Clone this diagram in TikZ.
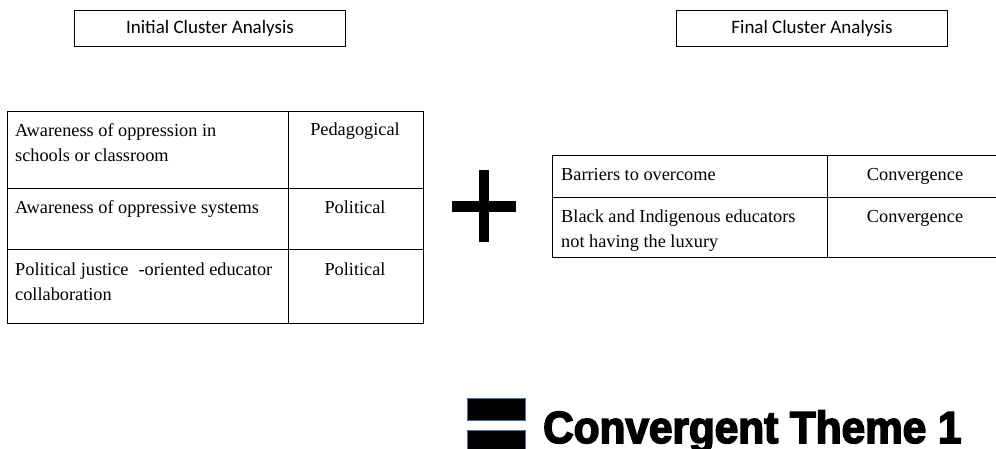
\documentclass[tikz,border=0pt]{standalone}
\usepackage{fontspec}
\setmainfont{Liberation Serif}
\newfontfamily\labelfont{Carlito}
\newfontfamily\themefont[FakeBold=3.5,FakeStretch=0.94]{Liberation Sans Bold}
\definecolor{baredge}{HTML}{41719C}

\tikzset{
  headbox/.style={draw, line width=1pt, minimum width=271pt, minimum height=36pt,
    inner sep=0pt, anchor=north west, font=\labelfont\fontsize{19}{22}\selectfont},
  cell/.style={draw, line width=1pt, inner sep=0pt, anchor=north west},
  celltext/.style={inner sep=0pt, align=left, font=\fontsize{18.3}{25}\selectfont},
  sign/.style={fill=black, draw=none},
  signbar/.style={fill=black, draw=baredge, line width=0.6pt},
}

\begin{document}
\begin{tikzpicture}[x=1pt, y=-1pt]
  \useasboundingbox (0,0) rectangle (996,448);
  \clip (0,0) rectangle (996,448);

  % headings
  \node[headbox] (initial) at (74,10) {Initial Cluster Analysis};
  \node[headbox] (final) at (676,10) {Final Cluster Analysis};

  % initial clusters table
  \node[cell, minimum width=281pt, minimum height=77pt] (a1) at (7,111) {};
  \node[cell, minimum width=135pt, minimum height=77pt] (b1) at (288,111) {};
  \node[cell, minimum width=281pt, minimum height=61pt] (a2) at (7,188) {};
  \node[cell, minimum width=135pt, minimum height=61pt] (b2) at (288,188) {};
  \node[cell, minimum width=281pt, minimum height=74pt] (a3) at (7,249) {};
  \node[cell, minimum width=135pt, minimum height=74pt] (b3) at (288,249) {};

  % two-line texts are placed by the baseline of their last line
  \node[celltext, anchor=base west] (ta1) at (15,161) {Awareness of oppression in\\schools or classroom};
  \node[celltext, anchor=base] (tb1) at (355,135) {Pedagogical};
  \node[celltext, anchor=base west] (ta2) at (15,213) {Awareness of oppressive systems};
  \node[celltext, anchor=base] (tb2) at (355,213) {Political};
  \node[celltext, anchor=base west] (ta3) at (15,300) {Political justice\hspace{0.55em}-oriented educator\\collaboration};
  \node[celltext, anchor=base] (tb3) at (355,275) {Political};

  % plus sign
  \fill[sign] (452,201) rectangle (516,212);
  \fill[sign] (479,170) rectangle (489,242);

  % final clusters table
  \node[cell, minimum width=275pt, minimum height=42pt] (c1) at (552,155) {};
  \node[cell, minimum width=180pt, minimum height=42pt] (d1) at (827,155) {};
  \node[cell, minimum width=275pt, minimum height=60pt] (c2) at (552,197) {};
  \node[cell, minimum width=180pt, minimum height=60pt] (d2) at (827,197) {};

  \node[celltext, anchor=base west] (tc1) at (561,180) {Barriers to overcome};
  \node[celltext, anchor=base] (td1) at (915,180) {Convergence};
  \node[celltext, anchor=base west] (tc2) at (561,247) {Black and Indigenous educators\\not having the luxury};
  \node[celltext, anchor=base] (td2) at (915,222) {Convergence};

  % equals sign and result
  \filldraw[signbar] (467,398) rectangle (525,420);
  \filldraw[signbar] (467,430) rectangle (525,452);
  \node[inner sep=0pt, anchor=base west, font=\themefont\fontsize{45}{50}\selectfont]
    (theme) at (543,443) {Convergent Theme 1};
\end{tikzpicture}
\end{document}
